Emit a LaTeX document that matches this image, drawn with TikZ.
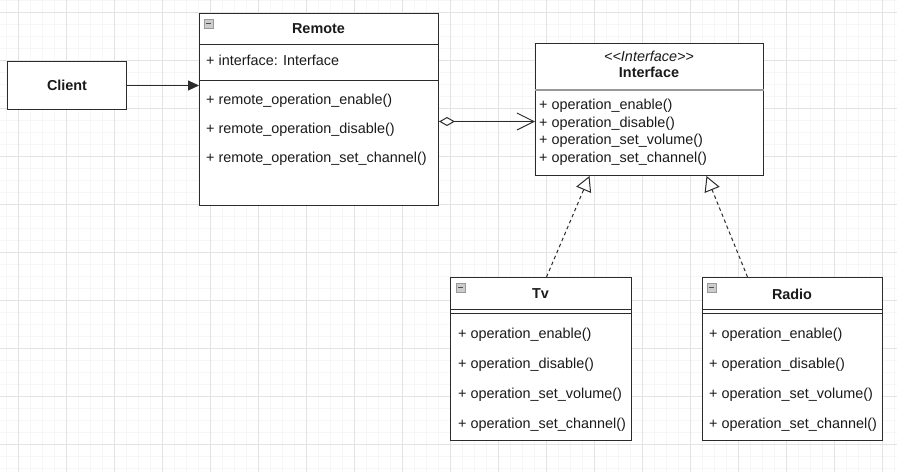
\documentclass[tikz,border=0pt]{standalone}
\usepackage{fontspec}
\setmainfont{Liberation Sans}
\usetikzlibrary{arrows.meta}
\definecolor{ink}{HTML}{1A1A1A}
\definecolor{edge}{HTML}{2B2B2B}
\begin{document}
\begin{tikzpicture}[x=1pt,y=-1pt,
  font=\fontsize{14.4}{17}\selectfont,
  box/.style={draw=edge, line width=1pt, fill=white, anchor=north west, inner sep=0},
  txt/.style={anchor=west, inner sep=0, text=ink},
  ttl/.style={inner sep=0, text=ink, font=\fontsize{14.4}{17}\selectfont\bfseries},
  icon/.style={draw=gray!80, fill=gray!40, minimum size=9pt, inner sep=0, anchor=north west, line width=0.7pt},
  sep/.style={draw=edge, line width=1pt},
  link/.style={draw=edge, line width=1pt},
  minorgrid/.style={draw=gray!7, line width=0.7pt},
  majorgrid/.style={draw=gray!22, line width=0.7pt}]
\useasboundingbox (0,0) rectangle (897,472);
\fill[white] (0,0) rectangle (897,472);
\foreach \x in {6,18,...,894} \draw[minorgrid] (\x,0) -- (\x,472);
\foreach \y in {0,12,...,468} \draw[minorgrid] (0,\y) -- (897,\y);
\foreach \x in {18,66,...,882} \draw[majorgrid] (\x,0) -- (\x,472);
\foreach \y in {12,60,...,444} \draw[majorgrid] (0,\y) -- (897,\y);

% Client
\node[box, minimum width=119pt, minimum height=48pt] (client) at (7,61) {};
\node[ttl] (clientt) at (client.center) {Client};

% Remote
\node[box, minimum width=239pt, minimum height=192pt] (remote) at (199,13) {};
\draw[sep] (remote.west |- 0,44) -- (remote.east |- 0,44);
\draw[sep] (remote.west |- 0,80) -- (remote.east |- 0,80);
\node[icon] (ricon) at (204,19) {};
\draw[line width=0.9pt, black!70] ([xshift=-2.5pt]ricon.center) -- ([xshift=2.5pt]ricon.center);
\node[ttl] (remotet) at (318.5,29) {Remote};
\node[txt] (ra) at (206,60) {+ interface: Interface};
\node[txt] (rm1) at (206,101) {+ remote\_operation\_enable()};
\node[txt] (rm2) at (206,130) {+ remote\_operation\_disable()};
\node[txt] (rm3) at (206,159) {+ remote\_operation\_set\_channel()};

% Interface
\node[box, minimum width=228pt, minimum height=132pt] (iface) at (535,43) {};
\draw[draw=black!40, line width=1.2pt] (iface.west |- 0,90) -- (iface.east |- 0,90);
\node[inner sep=0, text=ink, font=\fontsize{14.4}{17}\selectfont\itshape] (ifst) at (649,56) {<{}<Interface>{}>};
\node[ttl] (ift) at (649,72) {Interface};
\node[txt] (im1) at (539,106) {+ operation\_enable()};
\node[txt] (im2) at (539,123.5) {+ operation\_disable()};
\node[txt] (im3) at (539,141) {+ operation\_set\_volume()};
\node[txt] (im4) at (539,158.5) {+ operation\_set\_channel()};

% Tv
\node[box, minimum width=181pt, minimum height=163pt] (tv) at (450,277) {};
\draw[sep] (tv.west |- 0,309) -- (tv.east |- 0,309);
\draw[sep] (tv.west |- 0,313) -- (tv.east |- 0,313);
\node[icon] (ticon) at (456,283) {};
\draw[line width=0.9pt, black!70] ([xshift=-2.5pt]ticon.center) -- ([xshift=2.5pt]ticon.center);
\node[ttl] (tvt) at (540.5,294) {Tv};
\node[txt] (tm1) at (458,335) {+ operation\_enable()};
\node[txt] (tm2) at (458,365) {+ operation\_disable()};
\node[txt] (tm3) at (458,395) {+ operation\_set\_volume()};
\node[txt] (tm4) at (458,425) {+ operation\_set\_channel()};

% Radio
\node[box, minimum width=180pt, minimum height=163pt] (radio) at (702,277) {};
\draw[sep] (radio.west |- 0,309) -- (radio.east |- 0,309);
\draw[sep] (radio.west |- 0,313) -- (radio.east |- 0,313);
\node[icon] (dicon) at (707,283) {};
\draw[line width=0.9pt, black!70] ([xshift=-2.5pt]dicon.center) -- ([xshift=2.5pt]dicon.center);
\node[ttl] (radiot) at (792,294) {Radio};
\node[txt] (dm1) at (709,335) {+ operation\_enable()};
\node[txt] (dm2) at (709,365) {+ operation\_disable()};
\node[txt] (dm3) at (709,395) {+ operation\_set\_volume()};
\node[txt] (dm4) at (709,425) {+ operation\_set\_channel()};

% connectors
\draw[link, -{Triangle[length=11pt,width=10pt]}] (client.east) -- (client.east -| remote.west);
\coordinate (aggs) at ([yshift=-12pt]remote.east);
\draw[link, {Diamond[open, length=16pt, width=9pt, fill=white]}-{Straight Barb[length=17pt,width=17pt]}] (aggs) -- (aggs -| iface.west);
\coordinate (tvtop) at ([xshift=5.5pt]tv.north);
\coordinate (tvtip) at ([xshift=-60pt]iface.south);
\coordinate (radiotop) at ([xshift=-45pt]radio.north);
\coordinate (radiotip) at ([xshift=57pt]iface.south);
\draw[link, dash pattern=on 3.5pt off 3pt, -{Triangle[open, length=15pt, width=16pt, fill=white]}] (tvtop) -- (tvtip);
\draw[link, dash pattern=on 3.5pt off 3pt, -{Triangle[open, length=15pt, width=16pt, fill=white]}] (radiotop) -- (radiotip);
\end{tikzpicture}
\end{document}
